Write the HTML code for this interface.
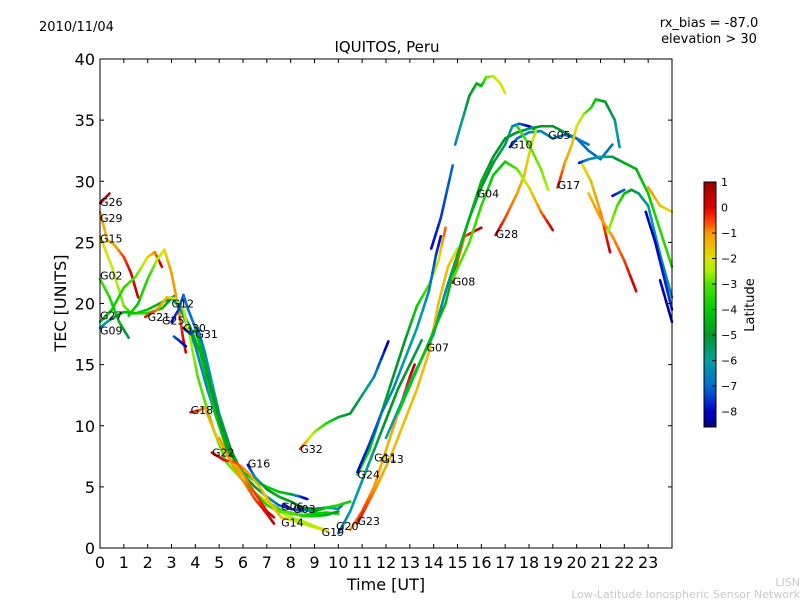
<!DOCTYPE html>
<html><head><meta charset="utf-8"><style>
body{margin:0;background:#fff;font-family:"Liberation Sans","DejaVu Sans",sans-serif}
svg{display:block}
</style></head><body>
<svg id="chart" width="800" height="600" xmlns="http://www.w3.org/2000/svg" font-family="DejaVu Sans, Liberation Sans, sans-serif">
<rect width="800" height="600" fill="#fff"/>
<text x="39" y="31" font-size="13">2010/11/04</text>
<text x="709" y="27" font-size="13" text-anchor="middle">rx_bias = -87.0</text>
<text x="709" y="43" font-size="13" text-anchor="middle">elevation &gt; 30</text>
<text x="387" y="52" font-size="15" text-anchor="middle">IQUITOS, Peru</text>
<text transform="translate(66,303) rotate(-90)" font-size="16" text-anchor="middle">TEC [UNITS]</text>
<text x="386" y="590" font-size="16" text-anchor="middle">Time [UT]</text>
<text x="800" y="586" font-size="11" fill="#c8c8c8" text-anchor="end">LISN</text>
<text x="800" y="598" font-size="11" fill="#c8c8c8" text-anchor="end">Low-Latitude Ionospheric Sensor Network</text>
<g id="plot"></g>
<g id="axes"></g>
<g id="cbar"></g>
</svg>
<script>
const xTicks=[0,1,2,3,4,5,6,7,8,9,10,11,12,13,14,15,16,17,18,19,20,21,22,23];
const yTicks=[0,5,10,15,20,25,30,35,40];
const cbTicks=[1,0,-1,-2,-3,-4,-5,-6,-7,-8];
// tracks: [time UT, TEC, latitude]
const trkG26=[[0,28.2,0],[0.4,29,0.5]];
const trkG29=[[0,27.5,-1],[0.3,25.2,-1.5],[0.6,24.8,-1.3],[1,23.8,-0.5],[1.3,22.5,0],[1.6,20.5,0.3]];
const trkG15=[[0,25.5,-1.8],[0.5,23,-2.2],[1,19.8,-2.8],[1.3,19.2,-3.2],[2,19.2,-3.5],[2.6,19.6,-4],[3.1,20.6,-5.5],[3.5,19,-6],[4,16.5,-6.5],[4.5,13,-6.5],[5,10,-5],[5.5,7.5,-4.5],[6,6.2,-4.5],[6.5,5.5,-4],[7,5,-4],[7.5,4.6,-4],[8,4.4,-4.5],[8.4,4.2,-7.5],[8.7,4,-8]];
const trkG02=[[0,22,-3.2],[0.4,20.5,-3.5],[0.8,18.5,-4.2],[1.2,17.2,-5.5]];
const trkG27=[[0,18.5,-4.5],[0.5,19.5,-4],[1,21.3,-3.5],[1.5,22.2,-3],[2,23.8,-2],[2.3,24.2,-1],[2.6,23,0.3]];
const trkA=[[1.2,19,-4],[1.6,20,-4],[2,22,-3.5],[2.4,23.6,-2.5],[2.7,24.4,-2],[3,22.5,-1],[3.3,19.5,-1],[3.5,17,0],[3.6,16,0.2]];
const trkG09=[[0,18,-6.5],[0.3,18.5,-6],[0.7,19,-5],[1,19.3,-4.5],[1.5,19.2,-4],[2,19.5,-4],[2.5,20,-4.5],[3,20.5,-5.5],[3.4,19.5,-5.5],[3.8,18,-5],[4.2,16,-4.5],[4.6,13,-4],[5,10,-4],[5.5,7,-4],[6,5.5,-3.5],[6.5,4.5,-3.5],[7,3.8,-3.5],[7.5,3.2,-3.5],[8,2.8,-3.5],[8.5,2.7,-3.5],[9,2.8,-4],[9.5,2.9,-4],[10,2.8,-3.5]];
const trkG21=[[1.9,18.9,0],[2.4,19.5,-0.8],[2.8,20.5,-1.5],[3.2,20.4,-2],[3.5,19.5,-2.5],[3.8,17,-2.5],[4.1,14,-3],[4.4,12,-3],[4.8,9.5,-3],[5.3,7,-3],[6,5.5,-2.5],[6.5,4.5,-2],[7,3.8,-2],[7.5,3,-2.5],[8,2.5,-2.5],[8.5,2.2,-2.5],[9,1.8,-2],[9.4,1.5,-2]];
const trkG12=[[3,18.5,-8],[3.3,19.5,-7.5],[3.5,20.7,-7],[3.7,19.5,-7],[4,18,-6.8],[4.3,16,-6.5],[4.6,13.5,-6.5],[5,10.5,-6],[5.5,7.5,-5],[6,6,-4.5]];
const trkG25=[[3.1,17.3,-7],[3.3,17,-7.5],[3.6,16.5,-8.3]];
const trkG30=[[3.5,18,-8],[3.8,17.5,-7.5],[4.1,18,-7],[4.4,16,-6.5],[4.7,13.5,-6],[5,11,-5.5],[5.5,8,-5],[6,6,-4.5],[6.5,5,-5],[7,4.2,-6],[7.5,3.5,-7],[8,3.2,-8]];
const trkG31=[[4,17.8,-4],[4.3,16,-4.5],[4.6,13.5,-5],[5,10.5,-5],[5.5,7,-4.5],[6,5.5,-4],[6.5,4.5,-4],[7,3.5,-3.5],[7.5,3,-3],[8,2.9,-3],[8.5,2.6,-3.5],[9,2.6,-4],[9.5,2.7,-4.5],[10,3,-5]];
const trkG18=[[3.8,11.1,0],[4.1,11.2,-0.5],[4.4,11.5,-1],[4.8,9.5,-1.5],[5.2,8,-2],[5.6,7,-1.5],[6,6,-1],[6.5,4.5,-0.5],[7,3,0],[7.3,2.5,0.3]];
const trkG22=[[4.7,7.8,0.3],[5.2,7.2,0],[5.7,7,-0.5],[6.2,6.2,-1],[6.7,5,-1.5],[7.2,3.5,-1.5],[7.6,2.5,-1.5],[8,2.3,-2],[8.5,2,-2.5],[9,1.7,-2.5],[9.5,1.4,-1.5]];
const trkG14=[[5,9,-1],[5.5,7,-1],[6,5.5,-1],[6.5,4,-0.5],[7,2.8,0],[7.3,2,0.5]];
const trkG16=[[6.2,6.8,-8],[6.5,5.8,-6.5],[7,4.8,-5],[7.5,4.2,-4.5],[8,3.8,-5],[8.5,3.3,-5],[9,3.2,-5],[9.5,3.3,-5.5],[10,3.2,-6.5],[10.2,3.6,-7]];
const trkG06=[[7.7,3.6,-8],[8,3.2,-7.5],[8.5,3,-7]];
const trkG03=[[8.3,3.3,-8],[8.6,3.1,-7],[9,3,-5],[9.5,3.3,-4],[10,3.5,-3.5],[10.5,3.8,-4]];
const trkG32=[[8.4,8.1,0],[8.7,8.8,-1.5],[9,9.5,-2.5],[9.5,10.2,-3.5],[10,10.7,-4.5],[10.5,11,-5],[11,12.5,-5.5],[11.5,14,-6.5],[12.1,16.9,-8.3]];
const trkG07=[[10.8,6,-3.5],[11.3,8,-4],[11.8,11,-4.5],[12.3,14,-5],[12.8,17,-5],[13.3,19.8,-4],[13.8,21.5,-3],[14.2,23.5,-2.2],[14.5,26.2,-0.5]];
const trkG24=[[10.8,6.2,-8],[11.3,8.5,-7.5],[11.8,11,-7],[12.3,13,-6.5],[12.8,15.5,-6],[13.3,18,-6],[13.8,21,-6.5],[14.1,24,-7.5],[14.3,25.5,-8]];
const trkG11=[[10.5,1.5,-1],[11,3,-0.5],[11.5,5,-1],[12,8,-1.5],[12.5,11,-1],[13,14,0],[13.2,15,0.5]];
const trkG20=[[10,1.2,-7],[10.5,3,-6],[11,5.5,-6],[11.5,8,-5.5],[12,10.5,-5],[12.5,13,-5],[13,15,-5],[13.5,17,-5.5]];
const trkG23=[[10.8,2,0],[11.2,3.5,-0.5],[11.6,5,-1],[12.2,7.5,-1.5],[12.7,10,-1.5],[13.3,13,-1.5],[13.8,16,-1.5],[14.2,20,-1.5],[14.6,23,-1.5],[15,24.5,-2]];
const trkG08=[[14.8,21.7,0.2],[15,23.5,-0.5],[15.3,25.5,-0.8],[15.6,25.8,0],[16,26.2,0.5]];
const trkG04=[[12,9,-6],[13,13.5,-6],[14,17.5,-6.5],[14.5,21,-6.5],[15,24,-6],[15.5,27,-5.5],[16,29.5,-5],[16.5,31.5,-5],[17,33,-5.5],[17.3,34.5,-6],[17.6,34.7,-7],[18,34.5,-8],[18.2,34.3,-8.3]];
const trkG05=[[12.5,11,-4],[13.5,15.5,-4],[14.5,20,-4.5],[15,24,-4.5],[15.5,27,-4.5],[16,30,-4.5],[16.5,32,-5],[17,33.5,-5],[17.5,34,-5],[18,34.3,-5.5],[18.5,34.5,-5],[19,34.5,-4.8],[19.5,34,-5.5],[20,33.5,-6],[20.5,33,-7]];
const trkTop=[[14.9,33,-6.5],[15.2,35,-6],[15.5,37,-5],[15.8,38,-4.5],[16,37.8,-4.5],[16.2,38.5,-3],[16.5,38.6,-2.5],[16.8,38,-2],[17,37.2,-2]];
const trkBlue=[[13.9,24.5,-8],[14.3,27,-7.5],[14.8,31.3,-7]];
const trkG10=[[17.2,32.8,-8],[17.5,33.5,-7],[18,34,-6.5],[18.5,34.1,-6.5],[19,33.5,-6.5],[19.5,33.8,-7],[20,33.5,-7],[20.5,32.5,-7],[21,31.8,-7],[21.5,33,-6.8]];
const trkG28=[[16.6,25.6,0.3],[17,27,-0.5],[17.5,29,-1],[17.8,30.5,-1.5],[18.1,33,-2],[18.3,34.2,-2.5]];
const trkGreen=[[14.8,22,-3],[15.5,25,-3],[16,28,-3.5],[16.5,30.5,-4],[17,31.6,-4],[17.5,31,-3],[18,29.5,-2],[18.5,27.5,-0.8],[19,26,0.3]];
const trkLime=[[17.5,34.5,-3.5],[18,33,-3],[18.5,31,-2.8],[18.8,29.3,-2.5]];
const trkG17=[[19.2,29.5,0],[19.5,31.5,-1],[19.8,33,-1.5],[20,34.5,-2],[20.3,35.5,-2.5],[20.6,36,-3.5],[20.8,36.7,-4],[21.2,36.5,-5],[21.6,35,-5.5],[21.8,32.8,-6.5]];
const trkR1=[[20.2,31.5,-2],[20.6,30,-1.5],[21,27.5,-1],[21.3,25,0],[21.4,24.2,0.3]];
const trkR2=[[20.5,29,-1.5],[21,27,-1],[21.5,25.5,-1],[22,23.5,-0.5],[22.5,21,0.3]];
const trkR3=[[20.1,31.5,-8],[20.5,31.8,-6.5],[21,32,-6],[21.5,32,-5.5],[22,31.5,-4.5],[22.5,31,-4.5],[23,29,-4],[23.5,26,-3.5],[24,23,-3.5]];
const trkR4=[[21.3,25.8,-2.5],[21.7,28,-3],[22,29,-4],[22.3,29.3,-5],[22.6,29,-5.5],[23,28,-6],[23.5,24,-6.5],[24,20.5,-6.5]];
const trkR5=[[21.5,28.8,-8],[22,29.3,-7]];
const trkR6=[[23,29.5,-1],[23.5,28,-1.5],[24,27.5,-2]];
const trkR7=[[22.9,27.5,-8],[23.3,25,-8],[24,19.5,-7.5]];
const trkR8=[[23.5,21.9,-8],[24,18.5,-8.5]];
const tracks=[trkG29,trkG15,trkG02,trkG27,trkA,trkG09,trkG21,trkG12,trkG25,trkG30,trkG31,trkG18,trkG22,trkG14,trkG16,trkG06,trkG03,trkG32,trkG07,trkG24,trkG11,trkG20,trkG23,trkG08,trkG04,trkG05,trkTop,trkBlue,trkG10,trkG28,trkGreen,trkLime,trkG17,trkR1,trkR2,trkR3,trkR4,trkR5,trkR6,trkR7,trkR8,trkG26];
const labelNames=["G26","G29","G15","G02","G27","G09","G21","G25","G12","G30","G31","G18","G22","G16","G32","G06","G03","G14","G19","G20","G23","G24","G11","G13","G07","G08","G04","G28","G10","G05","G17"];
const labelT=[0,0,0,0,0,0,2,2.6,3,3.5,4,3.8,4.7,6.2,8.4,7.6,8.1,7.6,9.3,9.9,10.8,10.8,11.5,11.8,13.7,14.8,15.8,16.6,17.2,18.8,19.2];
const labelV=[28.3,27,25.3,22.3,19,17.8,18.9,18.6,20,18,17.5,11.3,7.8,6.9,8.1,3.4,3.2,2.1,1.3,1.8,2.2,6,7.4,7.3,16.4,21.8,29,25.7,33,33.8,29.7];

const NS="http://www.w3.org/2000/svg";
const X0=100,X1=672,Y0=548,Y1=59;
const xs=t=>X0+t*(X1-X0)/24;
const ys=v=>Y0-v*(Y0-Y1)/40;
const CBT=182,CBB=427,CBMAX=1,CBMIN=-8.6;
const cy=l=>CBT+(CBMAX-l)*(CBB-CBT)/(CBMAX-CBMIN);
const stops=[[1,[150,0,0]],[0,[225,0,0]],[-0.5,[255,60,0]],[-1,[255,150,0]],[-2,[220,225,0]],[-2.5,[170,240,0]],[-3,[80,225,0]],[-4,[0,205,0]],[-5,[0,150,40]],[-6,[0,160,160]],[-7,[0,110,210]],[-8,[0,0,200]],[-8.6,[0,0,130]]];
function col(l){
  if(l>=stops[0][0])return 'rgb('+stops[0][1]+')';
  for(let i=0;i<stops.length-1;i++){const a=stops[i],b=stops[i+1];
    if(l<=a[0]&&l>=b[0]){const f=(a[0]-l)/(a[0]-b[0]);
      return 'rgb('+a[1].map((c,k)=>Math.round(c+(b[1][k]-c)*f)).join(',')+')';}}
  return 'rgb('+stops[stops.length-1][1]+')';
}
function mk(tag,attrs,parent){const e=document.createElementNS(NS,tag);for(const k in attrs)e.setAttribute(k,attrs[k]);parent.appendChild(e);return e;}
const plot=document.getElementById('plot');
tracks.forEach(tr=>{
  const g=mk('g',{},plot);
  
  
  for(let i=0;i<tr.length-1;i++){
    const a=tr[i],b=tr[i+1];
    const n=4;
    for(let j=0;j<n;j++){
      const f0=j/n,f1=(j+1)/n,fm=(j+.5)/n;
      const seg=mk('line',{x1:xs(a[0]+(b[0]-a[0])*f0),y1:ys(a[1]+(b[1]-a[1])*f0),x2:xs(a[0]+(b[0]-a[0])*f1),y2:ys(a[1]+(b[1]-a[1])*f1),stroke:col(a[2]+(b[2]-a[2])*fm),'stroke-width':2.6,'stroke-linecap':'round'},g);
      
      
    }
  }
});
labelNames.forEach((n,i)=>{
  const t=mk('text',{x:xs(labelT[i]),y:ys(labelV[i])+4,'font-size':11},plot);
  
  
  t.textContent=n;
});
const axes=document.getElementById('axes');
const frame=mk('rect',{x:X0,y:Y1,width:X1-X0,height:Y0-Y1,fill:'none',stroke:'#000','stroke-width':1},axes);


xTicks.forEach(t=>{
  const x=xs(t);
  mk('line',{x1:x,y1:Y0,x2:x,y2:Y0-4,stroke:'#000'},axes);
  mk('line',{x1:x,y1:Y1,x2:x,y2:Y1+4,stroke:'#000'},axes);
  const lb=mk('text',{x:x,y:Y0+20,'font-size':16,'text-anchor':'middle'},axes);
  
  
  lb.textContent=t;
});
yTicks.forEach(v=>{
  const y=ys(v);
  mk('line',{x1:X0,y1:y,x2:X0+4,y2:y,stroke:'#000'},axes);
  mk('line',{x1:X1,y1:y,x2:X1-4,y2:y,stroke:'#000'},axes);
  const lb=mk('text',{x:X0-5,y:y+6,'font-size':16,'text-anchor':'end'},axes);
  
  
  lb.textContent=v;
});
const cb=document.getElementById('cbar');
const defs=mk('defs',{},cb);
const grad=mk('linearGradient',{id:'cbg',x1:0,y1:0,x2:0,y2:1},defs);
stops.forEach(s=>{mk('stop',{offset:((CBMAX-s[0])/(CBMAX-CBMIN)),'stop-color':'rgb('+s[1]+')'},grad);});
const cr=mk('rect',{x:704,y:CBT,width:12,height:CBB-CBT,fill:'url(#cbg)',stroke:'#000','stroke-width':1},cb);


cbTicks.forEach(l=>{
  const y=cy(l);
  mk('line',{x1:712,y1:y,x2:716,y2:y,stroke:'#000'},cb);
  const lb=mk('text',{x:721,y:y+4,'font-size':11},cb);
  
  
  lb.textContent=l<0?'\u2212'+(-l):String(l);
});
const ct=mk('text',{transform:'translate(754,305) rotate(-90)','font-size':13,'text-anchor':'middle'},cb);


ct.textContent='Latitude';
</script>
</body></html>
